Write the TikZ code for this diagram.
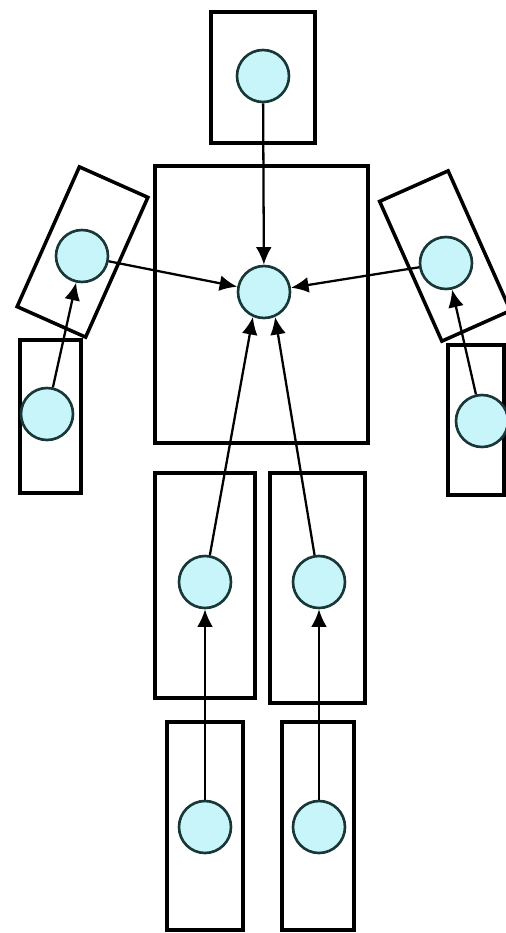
\documentclass[tikz,border=0pt]{standalone}
\usetikzlibrary{arrows.meta}
\definecolor{jointfill}{RGB}{200,245,249}
\definecolor{jointline}{RGB}{25,55,55}
\begin{document}
\begin{tikzpicture}[x=0.02cm,y=-0.02cm,
  joint/.style={circle,draw=jointline,fill=jointfill,line width=1.5pt,minimum size=1.04cm,inner sep=0pt},
  limb/.style={line width=2pt},
  link/.style={line width=1.3pt,-{Latex[length=10pt,width=9pt]}}]
\useasboundingbox (0,0) rectangle (506,933);

\draw[limb] (211,12) rectangle (315,143);
\draw[limb] (155,166) rectangle (368,443);
\draw[limb,rotate around={-24:(82.5,252)}] (45,175.5) rectangle (120,328.5);
\draw[limb,rotate around={24:(445,256)}] (407.5,179.5) rectangle (482.5,332.5);
\draw[limb] (20,340) rectangle (81,493);
\draw[limb] (448,345) rectangle (504,495);
\draw[limb] (155,473) rectangle (255,698);
\draw[limb] (270,473) rectangle (365,703);
\draw[limb] (167,722) rectangle (243,930);
\draw[limb] (282,722) rectangle (354,930);

\node[joint] (head) at (263,76) {};
\node[joint] (chest) at (264,292) {};
\node[joint] (lshoulder) at (82,256) {};
\node[joint] (rshoulder) at (446,263) {};
\node[joint] (lhand) at (47,414) {};
\node[joint] (rhand) at (482,421) {};
\node[joint] (lhip) at (205,582) {};
\node[joint] (rhip) at (319,582) {};
\node[joint] (lfoot) at (205,827) {};
\node[joint] (rfoot) at (319,827) {};

\draw[link] (head) -- (chest);
\draw[link] (lshoulder) -- (chest);
\draw[link] (rshoulder) -- (chest);
\draw[link] (lhip) -- (chest.-114);
\draw[link] (rhip) -- (chest.-66);
\draw[link] (lhand) -- (lshoulder);
\draw[link] (rhand) -- (rshoulder);
\draw[link] (lfoot) -- (lhip);
\draw[link] (rfoot) -- (rhip);
\end{tikzpicture}
\end{document}
